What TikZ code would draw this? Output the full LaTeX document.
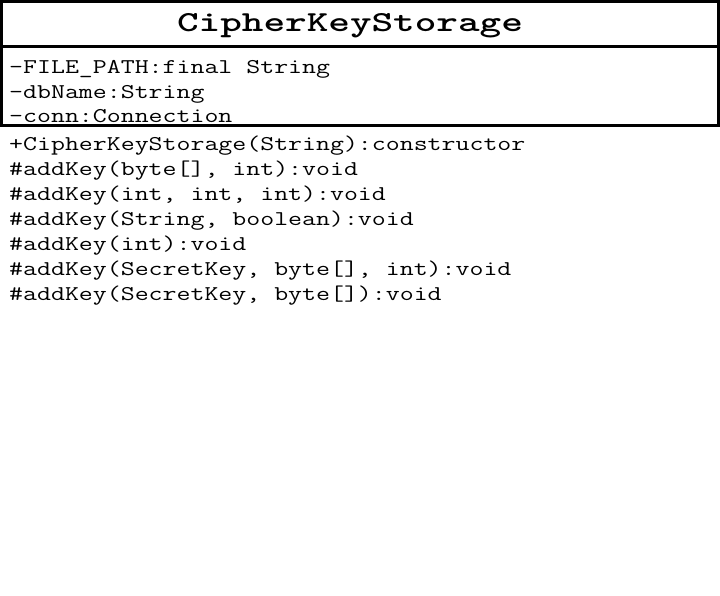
\documentclass[tikz,border=0pt]{standalone}
\usepackage{fontspec}
\usepackage{graphicx}
\newcommand{\cwide}[1]{\scalebox{1.29}[1]{#1}}
\newcommand{\twide}[1]{\scalebox{1.42}[1]{#1}}
\begin{document}
\begin{tikzpicture}[x=1pt,y=-1pt,
  boxline/.style={line width=3pt},
  member/.style={anchor=base west, inner sep=0pt, font=\ttfamily\fontsize{21}{25}\selectfont},
  titletext/.style={anchor=base, inner sep=0pt, font=\ttfamily\bfseries\fontsize{29}{32}\selectfont}]
\useasboundingbox (0,0) rectangle (720,596);
\fill[white] (0,0) rectangle (720,596);
\draw[boxline] (1.5,1.5) rectangle (718.5,125.5);
\draw[boxline] (1.5,47) -- (718.5,47);
\node[titletext] (title) at (350,32) {\twide{CipherKeyStorage}};
\node[member] (a1) at (9,73.5) {\cwide{-FILE\_PATH:final String}};
\node[member] (a2) at (9,98.5) {\cwide{-dbName:String}};
\node[member] (a3) at (9,123) {\cwide{-conn:Connection}};
\node[member] (m1) at (9,150.5) {\cwide{+CipherKeyStorage(String):constructor}};
\node[member] (m2) at (9,175.5) {\cwide{\#addKey(byte[], int):void}};
\node[member] (m3) at (9,200.5) {\cwide{\#addKey(int, int, int):void}};
\node[member] (m4) at (9,225.5) {\cwide{\#addKey(String, boolean):void}};
\node[member] (m5) at (9,250.5) {\cwide{\#addKey(int):void}};
\node[member] (m6) at (9,275.5) {\cwide{\#addKey(SecretKey, byte[], int):void}};
\node[member] (m7) at (9,300.5) {\cwide{\#addKey(SecretKey, byte[]):void}};
\end{tikzpicture}
\end{document}
